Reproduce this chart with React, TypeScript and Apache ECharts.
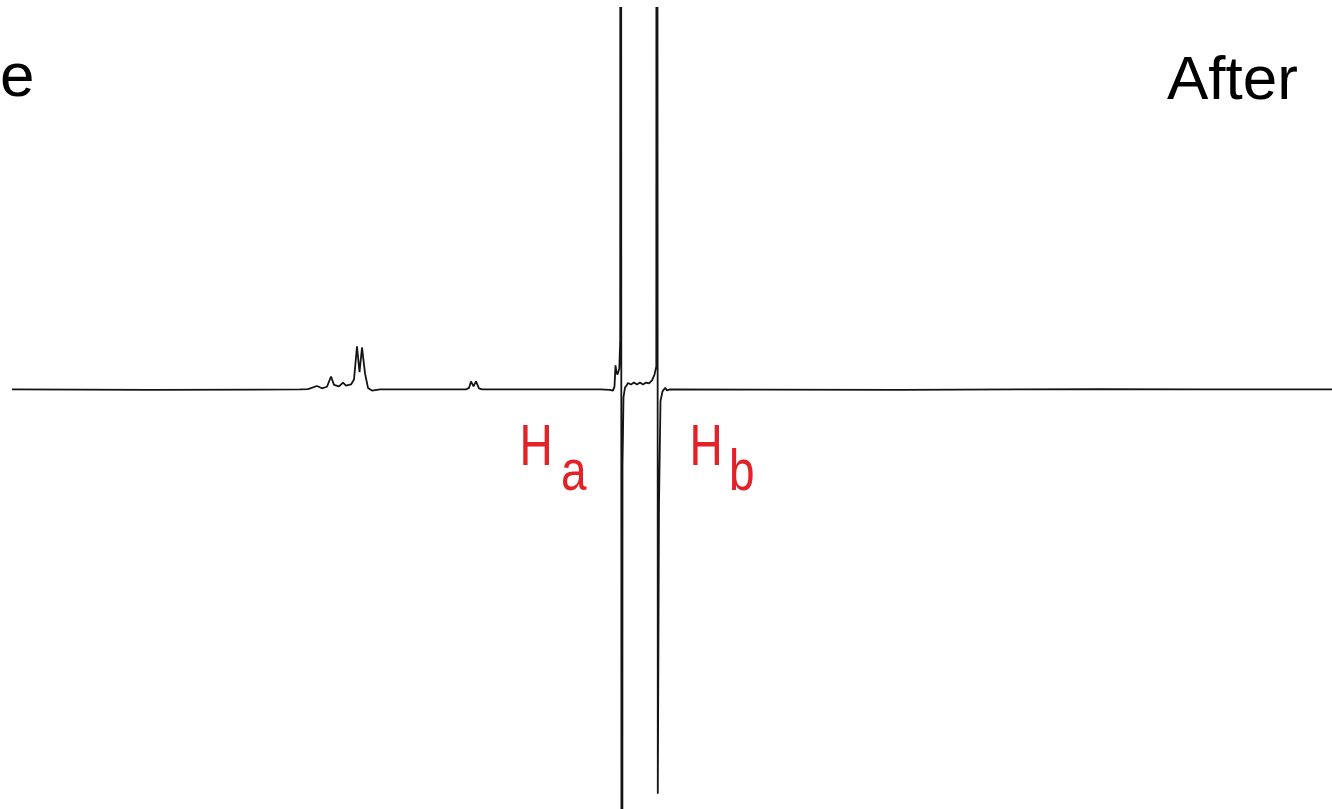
import React, { useEffect, useRef } from "react";
import * as echarts from "echarts";

// 1H NMR trace: channel index along x, relative intensity along y (baseline = 0).
// Intensities beyond the frame (the Ha / Hb dispersive lobes) are clipped by the grid.
const channels: number[] = [
  0, 138, 288, 296, 305, 310, 315, 319, 322, 327, 331, 334, 339, 342, 345, 347.5, 350, 353, 356, 360, 368,
  454, 457, 459, 461.5, 464, 467, 470,
  588, 598, 601, 602.5, 603.5, 604.5, 605.5, 607.3, 608.2, 608.7, 609.9, 610.5, 611.5, 613, 614.5,
  616, 619, 622, 625, 628, 631, 634, 637, 640, 642.5, 644.3, 644.8, 645.8, 647, 648.5, 650.5, 653.3, 655, 658,
  888, 1088, 1188, 1320,
];
const intensity: number[] = [
  0, -0.1, 0, 0.1, 0.9, 0.3, 0.7, 3.4, 1.2, 0.8, 1.8, 1.0, 1.3, 2.6, 11.3, 4.5, 11.0, 4.2, 0.4, -0.3, 0,
  0, 0.4, 2.1, 0.8, 2.1, 0.3, 0,
  0, -0.1, -0.3, 0.8, 6.3, 4.5, 3.9, 5.5, 12.9, 600, -600, -20, -2, 0.5, 1.0,
  1.7, 1.3, 1.8, 1.3, 1.8, 1.3, 1.8, 1.6, 2.4, 3.9, 6.0, 600, -106, -30, -3, -0.5, 0.45, -0.26, 0,
  -0.1, 0.1, 0, 0,
];

const xRange: [number, number] = [0, 1320];
const yRange: [number, number] = [-110, 100];

const peakLabels = [
  { main: "H", sub: "a", x: 519.5, subDx: 41.5 },
  { main: "H", sub: "b", x: 689.5, subDx: 39.5 },
];

const RED = "#e32228";
const FONT = "Liberation Sans, Arial, Helvetica, sans-serif";

export default function App() {
  const ref = useRef<HTMLDivElement>(null);

  useEffect(() => {
    if (!ref.current) return;
    const chart = echarts.init(ref.current, undefined, { renderer: "svg" });
    const data = channels.map((c, i) => [c, intensity[i]]);

    const labelGroups = peakLabels.map((p) => ({
      type: "group",
      x: p.x,
      y: 445,
      scaleY: 1.25,
      children: [
        {
          type: "text",
          x: 0,
          y: 0,
          style: {
            text: p.main,
            fontSize: 46,
            fontFamily: FONT,
            fill: RED,
            align: "left",
            textAlign: "left",
            verticalAlign: "middle",
            textVerticalAlign: "middle",
          },
        },
        {
          type: "text",
          x: p.subDx,
          y: 20,
          style: {
            text: p.sub,
            fontSize: 46,
            fontFamily: FONT,
            fill: RED,
            align: "left",
            textAlign: "left",
            verticalAlign: "middle",
            textVerticalAlign: "middle",
          },
        },
      ],
    }));

    chart.setOption({
      animation: false,
      backgroundColor: "#ffffff",
      grid: { left: 12, right: 0, top: 8, bottom: 0 },
      xAxis: { type: "value", min: xRange[0], max: xRange[1], show: false },
      yAxis: { type: "value", min: yRange[0], max: yRange[1], show: false },
      series: [
        {
          type: "line",
          data,
          showSymbol: false,
          symbol: "none",
          clip: true,
          smooth: false,
          lineStyle: { color: "#141414", width: 1.8 },
        },
      ],
      graphic: [
        {
          type: "text",
          x: 0,
          y: 74,
          style: {
            text: "e",
            fontSize: 62,
            fontFamily: FONT,
            fill: "#000",
            align: "left",
            textAlign: "left",
            verticalAlign: "middle",
            textVerticalAlign: "middle",
          },
        },
        {
          type: "text",
          x: 1167,
          y: 77,
          style: {
            text: "After",
            fontSize: 62,
            fontFamily: FONT,
            fill: "#000",
            align: "left",
            textAlign: "left",
            verticalAlign: "middle",
            textVerticalAlign: "middle",
          },
        },
        ...labelGroups,
      ],
    });
    return () => chart.dispose();
  }, []);

  return (
    <div
      ref={ref}
      style={{ position: "fixed", left: 0, top: 0, width: 1332, height: 809, background: "#fff" }}
    />
  );
}
